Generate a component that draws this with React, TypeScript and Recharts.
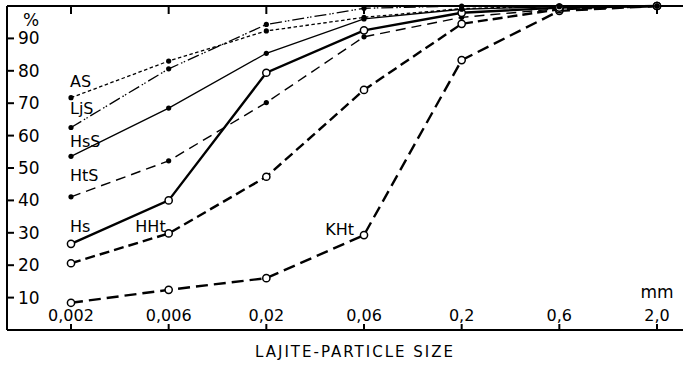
import { CartesianGrid, Line, LineChart, XAxis, YAxis } from "recharts";

// particle size classes (mm), evenly spaced on the chart
const sizes = ["0,002", "0,006", "0,02", "0,06", "0,2", "0,6", "2,0"];
const yTicks = [10, 20, 30, 40, 50, 60, 70, 80, 90];

// cumulative percent finer than size, one array per soil type
const AS = [71.7, 83.0, 92.3, 96.5, 99.2, 100, 100];
const LjS = [62.5, 80.6, 94.3, 99.3, 100, 100, 100];
const HsS = [53.6, 68.5, 85.4, 96.0, 99.0, 99.8, 100];
const HtS = [41.1, 52.2, 70.2, 90.5, 96.5, 99.2, 100];
const Hs = [26.6, 40.0, 79.4, 92.5, 97.9, 99.5, 100];
const HHt = [20.6, 29.8, 47.3, 74.1, 94.5, 99.0, 100];
const KHt = [8.4, 12.4, 16.0, 29.3, 83.3, 98.5, 100];

const rows = sizes.map((x, i) => ({
  x,
  AS: AS[i],
  LjS: LjS[i],
  HsS: HsS[i],
  HtS: HtS[i],
  Hs: Hs[i],
  HHt: HHt[i],
  KHt: KHt[i],
}));

const FONT = "'DejaVu Sans', sans-serif";

type LabelSpec = { text: string; at: number; dx: number; dy: number; anchor: "start" | "end" };

function makeDot(open: boolean, label?: LabelSpec) {
  return (props: any) => {
    const { cx, cy, index } = props;
    if (cx == null || cy == null) return <g key={index} />;
    return (
      <g key={index}>
        {open ? (
          <circle cx={cx} cy={cy} r={3.6} fill="#fff" stroke="#000" strokeWidth={1.5} />
        ) : (
          <circle cx={cx} cy={cy} r={2.6} fill="#000" />
        )}
        {label && label.at === index && (
          <text
            x={cx + label.dx}
            y={cy + label.dy}
            textAnchor={label.anchor}
            fontFamily={FONT}
            fontSize={16}
            fill="#000"
          >
            {label.text}
          </text>
        )}
      </g>
    );
  };
}

export default function App() {
  return (
    <div style={{ position: "absolute", left: 0, top: 0, width: 683, height: 368, background: "#fff" }}>
      <LineChart width={683} height={368} data={rows} margin={{ top: 6, right: 0, bottom: 38, left: 7 }}>
        <CartesianGrid horizontal={false} vertical={false} />
        <XAxis
          dataKey="x"
          mirror
          interval={0}
          padding={{ left: 64, right: 26 }}
          stroke="#000"
          strokeWidth={2}
          tickSize={6}
          tickMargin={3}
          tick={{ fontFamily: FONT, fontSize: 16, fill: "#000" }}
        />
        <XAxis
          xAxisId="top"
          dataKey="x"
          orientation="top"
          mirror
          interval={0}
          padding={{ left: 64, right: 26 }}
          stroke="#000"
          strokeWidth={2}
          tickSize={8}
          tickFormatter={() => ""}
        />
        <YAxis
          domain={[0, 100]}
          ticks={yTicks}
          mirror
          stroke="#000"
          strokeWidth={2}
          tickSize={7}
          tickMargin={4}
          tick={{ fontFamily: FONT, fontSize: 17, fill: "#000" }}
        />
        <Line
          dataKey="KHt"
          type="linear"
          stroke="#000"
          strokeWidth={2.4}
          strokeDasharray="12 6"
          dot={makeDot(true, { text: "KHt", at: 3, dx: -10, dy: 0, anchor: "end" })}
          isAnimationActive={false}
        />
        <Line
          dataKey="HHt"
          type="linear"
          stroke="#000"
          strokeWidth={2.4}
          strokeDasharray="10 5"
          dot={makeDot(true, { text: "HHt", at: 1, dx: -3, dy: -1, anchor: "end" })}
          isAnimationActive={false}
        />
        <Line
          dataKey="HtS"
          type="linear"
          stroke="#000"
          strokeWidth={1.4}
          strokeDasharray="10 6"
          dot={makeDot(false, { text: "HtS", at: 0, dx: -1, dy: -16, anchor: "start" })}
          isAnimationActive={false}
        />
        <Line
          dataKey="Hs"
          type="linear"
          stroke="#000"
          strokeWidth={2.4}
          dot={makeDot(true, { text: "Hs", at: 0, dx: -1, dy: -12, anchor: "start" })}
          isAnimationActive={false}
        />
        <Line
          dataKey="HsS"
          type="linear"
          stroke="#000"
          strokeWidth={1.3}
          dot={makeDot(false, { text: "HsS", at: 0, dx: -1, dy: -9, anchor: "start" })}
          isAnimationActive={false}
        />
        <Line
          dataKey="LjS"
          type="linear"
          stroke="#000"
          strokeWidth={1.3}
          strokeDasharray="12 3 1.5 1.5 1.5 3"
          dot={makeDot(false, { text: "LjS", at: 0, dx: -1, dy: -14, anchor: "start" })}
          isAnimationActive={false}
        />
        <Line
          dataKey="AS"
          type="linear"
          stroke="#000"
          strokeWidth={1.3}
          strokeDasharray="3.5 2.5"
          dot={makeDot(false, { text: "AS", at: 0, dx: -1, dy: -11, anchor: "start" })}
          isAnimationActive={false}
        />
        <text x={31} y={26} textAnchor="middle" fontFamily={FONT} fontSize={17} fill="#000">
          %
        </text>
        <text x={657} y={298} textAnchor="middle" fontFamily={FONT} fontSize={17} fill="#000">
          mm
        </text>
      </LineChart>
      <div
        style={{
          position: "absolute",
          left: 2,
          width: 706,
          top: 343,
          textAlign: "center",
          fontFamily: FONT,
          fontSize: 15,
          letterSpacing: 2,
          lineHeight: "18px",
          color: "#000",
        }}
      >
        LAJITE-PARTICLE SIZE
      </div>
    </div>
  );
}
